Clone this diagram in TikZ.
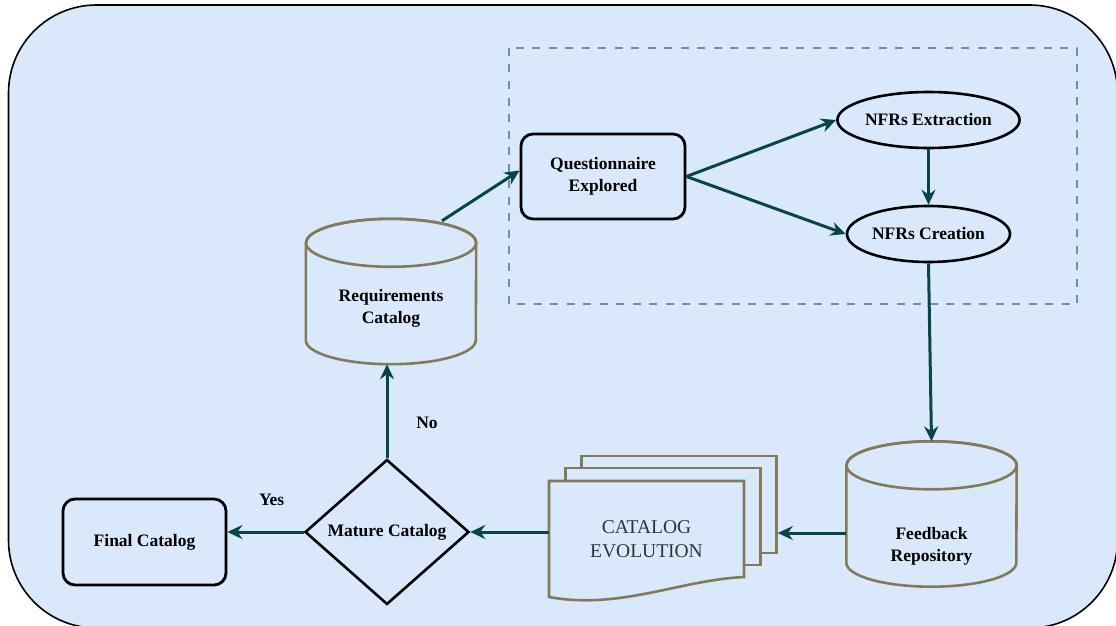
\documentclass[tikz,border=0pt]{standalone}
\usepackage{fontspec}
\setmainfont{Liberation Serif}
\usetikzlibrary{arrows.meta,shapes.geometric,calc}
\definecolor{bgblue}{HTML}{DAE8FC}
\definecolor{groupblue}{HTML}{6C8EBF}
\definecolor{cylolive}{HTML}{827A5A}
\definecolor{arrowteal}{HTML}{0A4545}
\definecolor{doctext}{HTML}{333333}

\begin{document}
\begin{tikzpicture}[
    x=1pt, y=1pt,
    font=\fontsize{17.5}{22}\selectfont\bfseries,
    procbox/.style={
        draw=black,
        fill=bgblue,
        rounded corners=12pt,
        minimum width=164pt,
        minimum height=85pt,
        align=center,
        line width=2.8pt
    },
    nfr/.style={
        ellipse,
        draw=black,
        fill=bgblue,
        minimum width=163pt,
        minimum height=56pt,
        inner sep=1pt,
        line width=2.6pt
    },
    store/.style={
        minimum width=170pt,
        minimum height=145pt,
        inner sep=0pt
    },
    cyl/.style={draw=cylolive,line width=2.6pt},
    docback/.style={
        draw=cylolive,
        fill=bgblue,
        minimum width=195pt,
        minimum height=97pt,
        inner sep=0pt,
        line width=2.6pt
    },
    decision/.style={
        diamond,
        draw=black,
        fill=bgblue,
        minimum width=164pt,
        minimum height=145pt,
        inner sep=1pt,
        line width=2.6pt
    },
    txt/.style={align=center,inner sep=0pt,text=black},
    flow/.style={-{Stealth[length=15pt,width=14pt,inset=5pt]},line width=3pt,arrowteal}
]
\useasboundingbox (0,0) rectangle (1116,-626);

% Background panel
\draw[fill=bgblue,draw=black,line width=1.6pt,rounded corners=88pt]
    (8.5,-5) rectangle (1117.5,-628);

% NFR group
\draw[groupblue,line width=2.6pt,dash pattern=on 8pt off 8.5pt]
    (509,-48) rectangle (1077,-304);

% Requirements catalog
\node[store] (req) at (391,-291.5) {};
\draw[cyl] ([yshift=-24pt]req.north west) -- ([yshift=24pt]req.south west)
    arc[start angle=180,end angle=360,x radius=85,y radius=24]
    -- ([yshift=-24pt]req.north east)
    arc[start angle=0,end angle=180,x radius=85,y radius=24];
\draw[cyl] ([yshift=-24pt]req.north) ellipse[x radius=85,y radius=24];
\node[txt] (reqtext) at (391,-308) {Requirements\\Catalog};

% Questionnaire
\node[procbox] (qe) at (603,-176.5) {Questionnaire\\Explored};

% NFR steps
\node[nfr] (ext) at (928.5,-120) {NFRs Extraction};
\node[nfr] (cre) at (928.5,-234) {NFRs Creation};

% Feedback repository
\node[store] (fb) at (931.5,-514) {};
\draw[cyl] ([yshift=-24pt]fb.north west) -- ([yshift=24pt]fb.south west)
    arc[start angle=180,end angle=360,x radius=85,y radius=24]
    -- ([yshift=-24pt]fb.north east)
    arc[start angle=0,end angle=180,x radius=85,y radius=24];
\draw[cyl] ([yshift=-24pt]fb.north) ellipse[x radius=85,y radius=24];
\node[txt] (fbtext) at (931.5,-546) {Feedback\\Repository};

% Catalog evolution (stacked documents)
\node[docback] (evoback) at (679,-504.5) {};
\node[docback] (evomid) at (663,-516.5) {};
\draw[cyl,fill=bgblue] (549,-481) -- (744,-481) -- (744,-577)
    .. controls +(-64,-3) and +(71,-13) .. (549,-597) -- cycle;
\node[txt,minimum width=195pt,minimum height=116pt,
    font=\fontsize{19.5}{24}\selectfont,text=doctext] (evo) at (646.5,-539)
    {CATALOG\\EVOLUTION};

% Decision and final catalog
\node[decision] (mat) at (387,-532) {Mature Catalog};
\node[procbox,minimum width=163pt,minimum height=86pt] (fin) at (144.5,-542) {Final Catalog};

% Flow
\draw[flow] ([shift={(51,-2)}]req.north) -- ([yshift=6pt]qe.west);
\draw[flow] (qe.east) -- (ext.west);
\draw[flow] (qe.east) -- (cre.west);
\draw[flow] (ext.south) -- (cre.north);
\draw[flow] (cre.south) -- (fb.north);
\coordinate (fbin) at ([yshift=-19pt]fb.west);
\draw[flow] (fbin) -- (fbin -| evoback.east);
\draw[flow] (evo.west |- mat.east) -- (mat.east);
\draw[flow] (mat.west) -- (mat.west -| fin.east)
    node[txt,pos=0.42,yshift=32pt] {Yes};
\draw[flow] (mat.north) -- (mat.north |- req.south)
    node[txt,pos=0.38,xshift=40pt] {No};

\end{tikzpicture}
\end{document}
